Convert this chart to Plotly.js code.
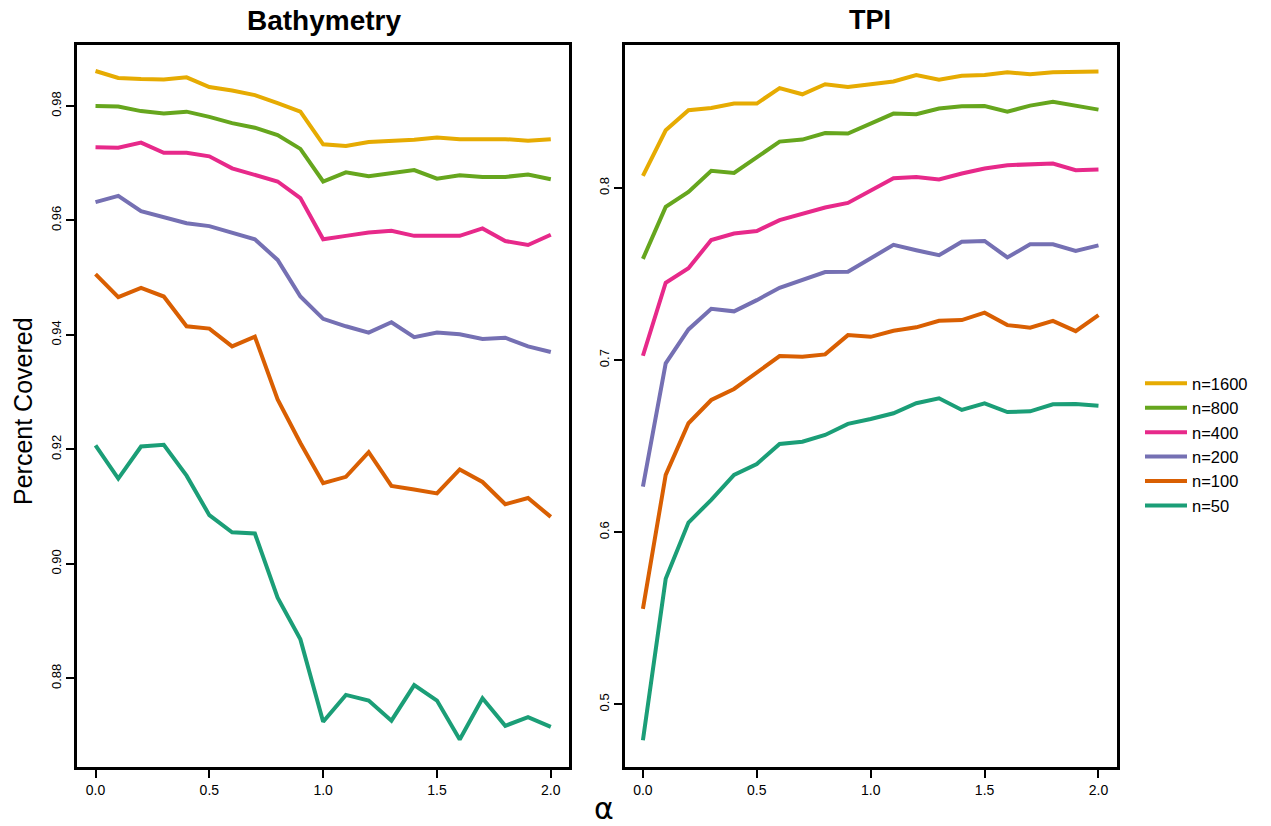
<!DOCTYPE html>
<html>
<head>
<meta charset="utf-8">
<script src="https://cdn.plot.ly/plotly-3.0.1.min.js"></script>
<style>html,body{margin:0;padding:0;background:#fff;}#chart{width:1271px;height:826px;}</style>
</head>
<body>
<div id="chart"></div>
<script>
const alpha = [0.0,0.1,0.2,0.3,0.4,0.5,0.6,0.7,0.8,0.9,1.0,1.1,1.2,1.3,1.4,1.5,1.6,1.7,1.8,1.9,2.0];
const seriesNames = ["n=1600","n=800","n=400","n=200","n=100","n=50"];
const seriesColors = ["#E6AB02","#66A61E","#E7298A","#7570B3","#D95F02","#1B9E77"];

// Bathymetry panel
const bathy1600 = [0.9861,0.9849,0.9847,0.9846,0.9850,0.9833,0.9827,0.9819,0.9805,0.9790,0.9733,0.9730,0.9737,0.9739,0.9741,0.9745,0.9742,0.9742,0.9742,0.9739,0.9742];
const bathy800  = [0.9800,0.9799,0.9791,0.9787,0.9790,0.9781,0.9770,0.9762,0.9749,0.9725,0.9668,0.9684,0.9677,0.9683,0.9688,0.9673,0.9679,0.9676,0.9676,0.9680,0.9672];
const bathy400  = [0.9728,0.9727,0.9736,0.9718,0.9718,0.9712,0.9691,0.9679,0.9668,0.9639,0.9567,0.9573,0.9579,0.9582,0.9573,0.9573,0.9573,0.9586,0.9564,0.9557,0.9575];
const bathy200  = [0.9632,0.9643,0.9616,0.9605,0.9595,0.9590,0.9579,0.9567,0.9531,0.9467,0.9428,0.9415,0.9404,0.9422,0.9396,0.9404,0.9401,0.9393,0.9395,0.9380,0.9370];
const bathy100  = [0.9506,0.9466,0.9482,0.9467,0.9415,0.9411,0.9380,0.9397,0.9287,0.9211,0.9141,0.9152,0.9195,0.9136,0.9130,0.9123,0.9165,0.9143,0.9104,0.9115,0.9082];
const bathy50   = [0.9207,0.9149,0.9205,0.9208,0.9154,0.9085,0.9055,0.9053,0.8941,0.8868,0.8724,0.8771,0.8761,0.8726,0.8788,0.8761,0.8693,0.8765,0.8717,0.8732,0.8715];

// TPI panel
const tpi1600 = [0.8070,0.8335,0.8451,0.8464,0.8490,0.8490,0.8580,0.8544,0.8602,0.8586,0.8602,0.8618,0.8656,0.8629,0.8652,0.8656,0.8672,0.8660,0.8672,0.8672,0.8677];
const tpi800  = [0.7588,0.7890,0.7977,0.8099,0.8087,0.8176,0.8269,0.8281,0.8319,0.8316,0.8374,0.8432,0.8428,0.8461,0.8474,0.8476,0.8443,0.8478,0.8501,0.8478,0.8455];
const tpi400  = [0.7025,0.7449,0.7534,0.7697,0.7735,0.7750,0.7813,0.7847,0.7886,0.7913,0.7987,0.8056,0.8064,0.8049,0.8084,0.8113,0.8132,0.8138,0.8142,0.8103,0.8107];
const tpi200  = [0.6265,0.6981,0.7178,0.7298,0.7283,0.7348,0.7420,0.7464,0.7511,0.7513,0.7590,0.7669,0.7638,0.7609,0.7687,0.7692,0.7596,0.7673,0.7673,0.7634,0.7666];
const tpi100  = [0.5555,0.6333,0.6633,0.6768,0.6832,0.6926,0.7023,0.7019,0.7033,0.7145,0.7135,0.7170,0.7190,0.7228,0.7232,0.7275,0.7203,0.7188,0.7228,0.7168,0.7261];
const tpi50   = [0.4791,0.5729,0.6056,0.6188,0.6333,0.6396,0.6513,0.6526,0.6565,0.6629,0.6658,0.6691,0.6749,0.6778,0.6710,0.6749,0.6698,0.6702,0.6743,0.6745,0.6735];

const bathySeries = [bathy1600,bathy800,bathy400,bathy200,bathy100,bathy50];
const tpiSeries = [tpi1600,tpi800,tpi400,tpi200,tpi100,tpi50];

const xTicks = [0,0.5,1,1.5,2];
const xTickText = ["0.0","0.5","1.0","1.5","2.0"];
const bathyTicks = [0.88,0.90,0.92,0.94,0.96,0.98];
const bathyTickText = ["0.88","0.90","0.92","0.94","0.96","0.98"];
const tpiTicks = [0.5,0.6,0.7,0.8];
const tpiTickText = ["0.5","0.6","0.7","0.8"];

const FONT = "Liberation Sans, Arial, Helvetica, sans-serif";
const traces = [];
for (let i = 0; i < seriesNames.length; i++) {
  traces.push({x: alpha, y: bathySeries[i], type: "scatter", mode: "lines", name: seriesNames[i],
    legendgroup: seriesNames[i], showlegend: true, xaxis: "x", yaxis: "y",
    line: {color: seriesColors[i], width: 4, shape: "linear"}, hoverinfo: "skip"});
}
for (let i = 0; i < seriesNames.length; i++) {
  traces.push({x: alpha, y: tpiSeries[i], type: "scatter", mode: "lines", name: seriesNames[i],
    legendgroup: seriesNames[i], showlegend: false, xaxis: "x2", yaxis: "y2",
    line: {color: seriesColors[i], width: 4, shape: "linear"}, hoverinfo: "skip"});
}

const W = 1271, H = 826;
const yDom = [1 - 767/H, 1 - 44.7/H];
function xAxis(dom, anchor) {
  return {domain: dom, anchor: anchor, range: [-0.08, 2.08], tickvals: xTicks, ticktext: xTickText,
    showgrid: false, zeroline: false, showline: true, mirror: true, linecolor: "#000", linewidth: 3,
    ticks: "outside", ticklen: 8, tickwidth: 2, tickcolor: "#000",
    tickfont: {family: FONT, size: 14, color: "#000"}, fixedrange: true};
}
function yAxis(range, vals, text, anchor) {
  return {domain: yDom, anchor: anchor, range: range, tickvals: vals, ticktext: text,
    showgrid: false, zeroline: false, showline: true, mirror: true, linecolor: "#000", linewidth: 3,
    ticks: "outside", ticklen: 8, tickwidth: 2, tickcolor: "#000", tickangle: -90,
    tickfont: {family: FONT, size: 13, color: "#000"}, fixedrange: true};
}

const layout = {
  width: W, height: H,
  margin: {l: 0, r: 0, t: 0, b: 0},
  paper_bgcolor: "#fff", plot_bgcolor: "#fff",
  showlegend: true,
  xaxis: xAxis([77.3/W, 569/W], "y"),
  yaxis: yAxis([0.8645, 0.9907], bathyTicks, bathyTickText, "x"),
  xaxis2: xAxis([624.7/W, 1116.7/W], "y2"),
  yaxis2: yAxis([0.4636, 0.8832], tpiTicks, tpiTickText, "x2"),
  legend: {x: 1140/W, y: 1 - 366/H, xanchor: "left", yanchor: "top", bgcolor: "rgba(0,0,0,0)",
    borderwidth: 0, font: {family: FONT, size: 16.5, color: "#000"}, traceorder: "normal",
    itemwidth: 42, tracegroupgap: 0},
  annotations: [
    {text: "<b>Bathymetry</b>", x: 324/W, y: 1 - 20/H, xref: "paper", yref: "paper", xanchor: "center", yanchor: "middle",
      showarrow: false, font: {family: FONT, size: 28, color: "#000"}},
    {text: "<b>TPI</b>", x: 870/W, y: 1 - 20/H, xref: "paper", yref: "paper", xanchor: "center", yanchor: "middle",
      showarrow: false, font: {family: FONT, size: 27, color: "#000"}},
    {text: "Percent Covered", x: 23/W, y: 1 - 411/H, xref: "paper", yref: "paper", xanchor: "center", yanchor: "middle",
      textangle: -90, showarrow: false, font: {family: FONT, size: 25, color: "#000"}},
    {text: "α", x: 604/W, y: 1 - 808/H, xref: "paper", yref: "paper", xanchor: "center", yanchor: "middle",
      showarrow: false, font: {family: "DejaVu Sans, " + FONT, size: 30, color: "#000"}}
  ]
};

Plotly.newPlot("chart", traces, layout, {displayModeBar: false, staticPlot: true});
</script>
</body>
</html>
